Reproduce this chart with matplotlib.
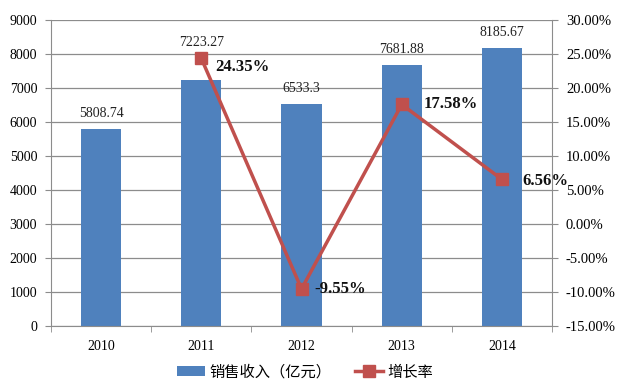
import matplotlib.pyplot as plt
import numpy as np

# 数据
years = ['2010', '2011', '2012', '2013', '2014']
revenue = [5808.74, 7223.27, 6533.3, 7681.88, 8185.67]
growth_years = ['2011', '2012', '2013', '2014']
growth = [24.35, -9.55, 17.58, 6.56]

plt.rcParams['font.family'] = ['Liberation Serif', 'Noto Sans CJK SC']

fig = plt.figure(figsize=(6.17, 3.82), dpi=100)
ax = fig.add_axes([0.0827, 0.1466, 0.812, 0.801])
ax2 = ax.twinx()

x = np.arange(len(years))
ax.bar(x, revenue, width=0.4, color='#4F81BD', zorder=2, label='销售收入（亿元）')
# 2011 的标签被挪到折线上方
lab_off = [11, 27, 11, 11, 11]
for xi, v, o in zip(x, revenue, lab_off):
    ax.annotate(f'{v:g}', (xi, v), xytext=(0, o), textcoords='offset points',
                ha='center', va='center', fontsize=10, color='#222222')

ax.set_xlim(-0.5, len(years) - 0.5)
ax.set_ylim(0, 9000)
ax.set_yticks(range(0, 9001, 1000))
ax.yaxis.grid(True, color='#8C8C8C', linewidth=0.9, zorder=0)
ax.set_axisbelow(True)
ax.set_xticks(x)
ax.set_xticklabels(years, fontsize=10)
ax.set_xticks(np.arange(-0.5, len(years)), minor=True)
ax.tick_params(axis='x', which='major', length=0, pad=10)
ax.tick_params(axis='x', which='minor', length=4, color='#8C8C8C', direction='out')
ax.tick_params(axis='y', length=4, color='#8C8C8C', labelsize=10, pad=6)
for s in ['top', 'right']:
    ax.spines[s].set_visible(False)
for s in ['left', 'bottom']:
    ax.spines[s].set_color('#8C8C8C')

gx = [years.index(y) for y in growth_years]
ax2.plot(gx, growth, color='#C0504D', linewidth=2.5, marker='s', markersize=8,
         markerfacecolor='#C0504D', markeredgecolor='#C0504D', label='增长率', zorder=3)
offsets = [(10, -6), (9, 0), (16, 0), (14.5, -1)]
for xi, g, off in zip(gx, growth, offsets):
    ax2.annotate(f'{g:.2f}%', (xi, g), xytext=off, textcoords='offset points',
                 ha='left', va='center', fontsize=12, fontweight='bold', color='#111111')
ax2.set_ylim(-15, 30)
ax2.set_yticks(range(-15, 31, 5))
ax2.set_yticklabels([f'{t:.2f}%' for t in range(-15, 31, 5)])
ax2.tick_params(axis='y', length=4, color='#8C8C8C', labelsize=10.5, pad=6)
for s in ['top', 'left', 'bottom']:
    ax2.spines[s].set_visible(False)
ax2.spines['right'].set_color('#8C8C8C')

h1, l1 = ax.get_legend_handles_labels()
h2, l2 = ax2.get_legend_handles_labels()
leg = fig.legend(h1 + h2, l1 + l2, loc='center', bbox_to_anchor=(305 / 617, 10 / 382),
                 ncol=2, frameon=False, handlelength=1.85, handletextpad=0.3,
                 columnspacing=1.5, handleheight=0.55,
                 prop={'family': ['Noto Sans CJK SC'], 'size': 11})

fig.savefig('out.png', dpi=100)
